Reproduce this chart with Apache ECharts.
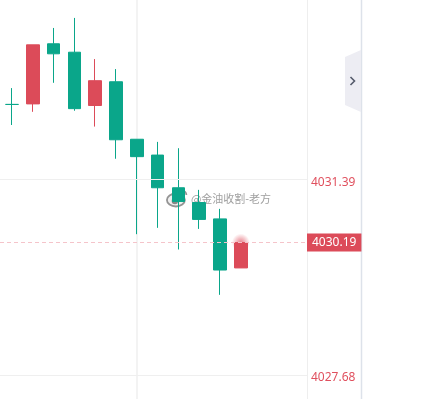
<!DOCTYPE html>
<html>
  <head>
    <meta charset="utf-8" />
    <title>K线</title>
    <script src="https://cdn.jsdelivr.net/npm/echarts@6.0.0/dist/echarts.min.js"></script>
    <style>
      * {
        margin: 0;
        padding: 0;
        box-sizing: border-box;
      }
      body {
        background: #fff;
      }
    </style>
  </head>
  <body>
    <div id="main" style="width: 440px; height: 399px"></div>
    <script type="text/javascript">
      var myChart = echarts.init(document.getElementById("main"));

      const categories = ["1", "2", "3", "4", "5", "6", "7", "8", "9", "10", "11", "12", "13", "14", "15"];
      // [open, close, low, high]
      const candles = [
        [4032.81, 4032.81, 4032.42, 4033.12],
        [4032.82, 4033.94, 4032.67, 4033.94],
        [4033.96, 4033.77, 4033.22, 4034.26],
        [4033.8, 4032.73, 4032.69, 4034.45],
        [4032.79, 4033.26, 4032.39, 4033.67],
        [4033.24, 4032.14, 4031.78, 4033.48],
        [4032.15, 4031.82, 4030.35, 4032.15],
        [4031.85, 4031.23, 4030.47, 4032.1],
        [4031.23, 4030.97, 4030.06, 4031.98],
        [4030.95, 4030.63, 4030.45, 4031.19],
        [4030.64, 4029.67, 4029.2, 4030.83],
        [4029.71, 4030.19, 4029.71, 4030.19],
      ];
      const tickValues = [4031.39, 4027.68];
      const lastPrice = 4030.19;
      const yMin = 4027.225;
      const yMax = 4034.79;

      const red = "#dc4b59";
      const green = "#0aa68a";

      var option = {
        animation: false,
        grid: [
          { left: 1.6, top: 0, bottom: 0, width: 312 }, // K线
          { left: 0, top: 0, bottom: 0, width: 307 }, // 坐标轴
        ],
        xAxis: [
          { type: "category", gridIndex: 0, data: categories, show: false },
          { type: "value", gridIndex: 1, min: 0, max: 1, show: false },
        ],
        yAxis: [
          { type: "value", gridIndex: 0, min: yMin, max: yMax, show: false },
          {
            type: "value",
            gridIndex: 1,
            position: "right",
            min: yMin,
            max: yMax,
            axisLine: { show: true, onZero: false, lineStyle: { color: "#eeeeee", width: 1 } },
            axisTick: { show: false },
            axisLabel: { show: false },
            splitLine: { show: false },
          },
        ],
        graphic: [
          // 右侧面板
          {
            type: "line",
            shape: { x1: 361.5, y1: 0, x2: 361.5, y2: 399 },
            style: { stroke: "#dde2ea", lineWidth: 1.5 },
            silent: true,
          },
          {
            type: "polygon",
            shape: { points: [[345, 57], [361, 50], [361, 112], [345, 105]] },
            style: { fill: "#ededf3" },
            silent: true,
          },
          {
            type: "polyline",
            shape: { points: [[350.5, 77], [354.5, 81], [350.5, 85]] },
            style: { stroke: "#555b6b", lineWidth: 1.6, fill: null },
            silent: true,
          },
          // 水印
          {
            type: "group",
            left: 166,
            top: 188,
            z: 100,
            children: [
              {
                type: "ellipse",
                shape: { cx: 9, cy: 11, rx: 9, ry: 6.5 },
                style: { fill: "rgba(238,238,238,0.9)", stroke: "rgba(130,130,130,0.85)", lineWidth: 1.8 },
              },
              {
                type: "circle",
                shape: { cx: 8, cy: 12, r: 3.2 },
                style: { fill: "rgba(110,110,110,0.8)" },
              },
              {
                type: "arc",
                shape: { cx: 15, cy: 6, r: 4.5, startAngle: -Math.PI, endAngle: 0 },
                style: { stroke: "rgba(130,130,130,0.85)", lineWidth: 1.8, fill: null },
              },
              {
                type: "text",
                x: 24,
                y: 4,
                style: {
                  text: "@金油收割-老方",
                  fill: "rgba(135,135,135,0.8)",
                  font: '11px "Noto Sans CJK SC"',
                  textShadowColor: "rgba(255,255,255,1)",
                  textShadowBlur: 5,
                },
              },
            ],
          },
        ],
        series: [
          {
            type: "scatter",
            xAxisIndex: 0,
            yAxisIndex: 0,
            z: 2,
            symbolSize: 18,
            silent: true,
            itemStyle: {
              color: new echarts.graphic.RadialGradient(0.5, 0.5, 0.5, [
                { offset: 0, color: "rgba(224,80,94,0.9)" },
                { offset: 0.45, color: "rgba(224,80,94,0.5)" },
                { offset: 1, color: "rgba(224,80,94,0)" },
              ]),
            },
            data: [[categories[candles.length - 1], lastPrice]],
          },
          {
            type: "candlestick",
            xAxisIndex: 0,
            yAxisIndex: 0,
            z: 3,
            barWidth: 13,
            itemStyle: {
              color: red,
              color0: green,
              borderColor: red,
              borderColor0: green,
              borderColorDoji: green,
              borderWidth: 1,
            },
            // 纵向网格线
            markLine: {
              z: 1,
              silent: true,
              symbol: ["none", "none"],
              label: { show: false },
              lineStyle: { color: "#f3f3f3", width: 2, type: "solid" },
              data: [{ xAxis: 6 }],
            },
            data: candles,
          },
          {
            // 横向网格线、刻度标签、现价线
            type: "line",
            xAxisIndex: 1,
            yAxisIndex: 1,
            data: [],
            markLine: {
              silent: true,
              symbol: ["none", "none"],
              data: tickValues
                .map((v) => ({
                  yAxis: v,
                  lineStyle: { color: "#efefef", width: 1, type: "solid" },
                  label: {
                    show: true,
                    position: "end",
                    distance: 4,
                    formatter: () => "{t|" + v.toFixed(2) + "}",
                    rich: {
                      t: {
                        color: "#e0505e",
                        fontSize: 12,
                        fontFamily: "Noto Sans",
                        padding: [6, 0, 0, 0],
                      },
                    },
                  },
                }))
                .concat([
                  {
                    yAxis: lastPrice,
                    lineStyle: { color: "#f5c4ca", width: 1, type: [4, 3] },
                    label: {
                      show: true,
                      position: "end",
                      distance: 0,
                      formatter: () => lastPrice.toFixed(2),
                      color: "#fff",
                      backgroundColor: red,
                      padding: [3, 5, 3, 5],
                      lineHeight: 12,
                      fontSize: 12,
                      fontFamily: "Noto Sans",
                    },
                  },
                ]),
            },
          },
        ],
      };

      myChart.setOption(option);
    </script>
  </body>
</html>
